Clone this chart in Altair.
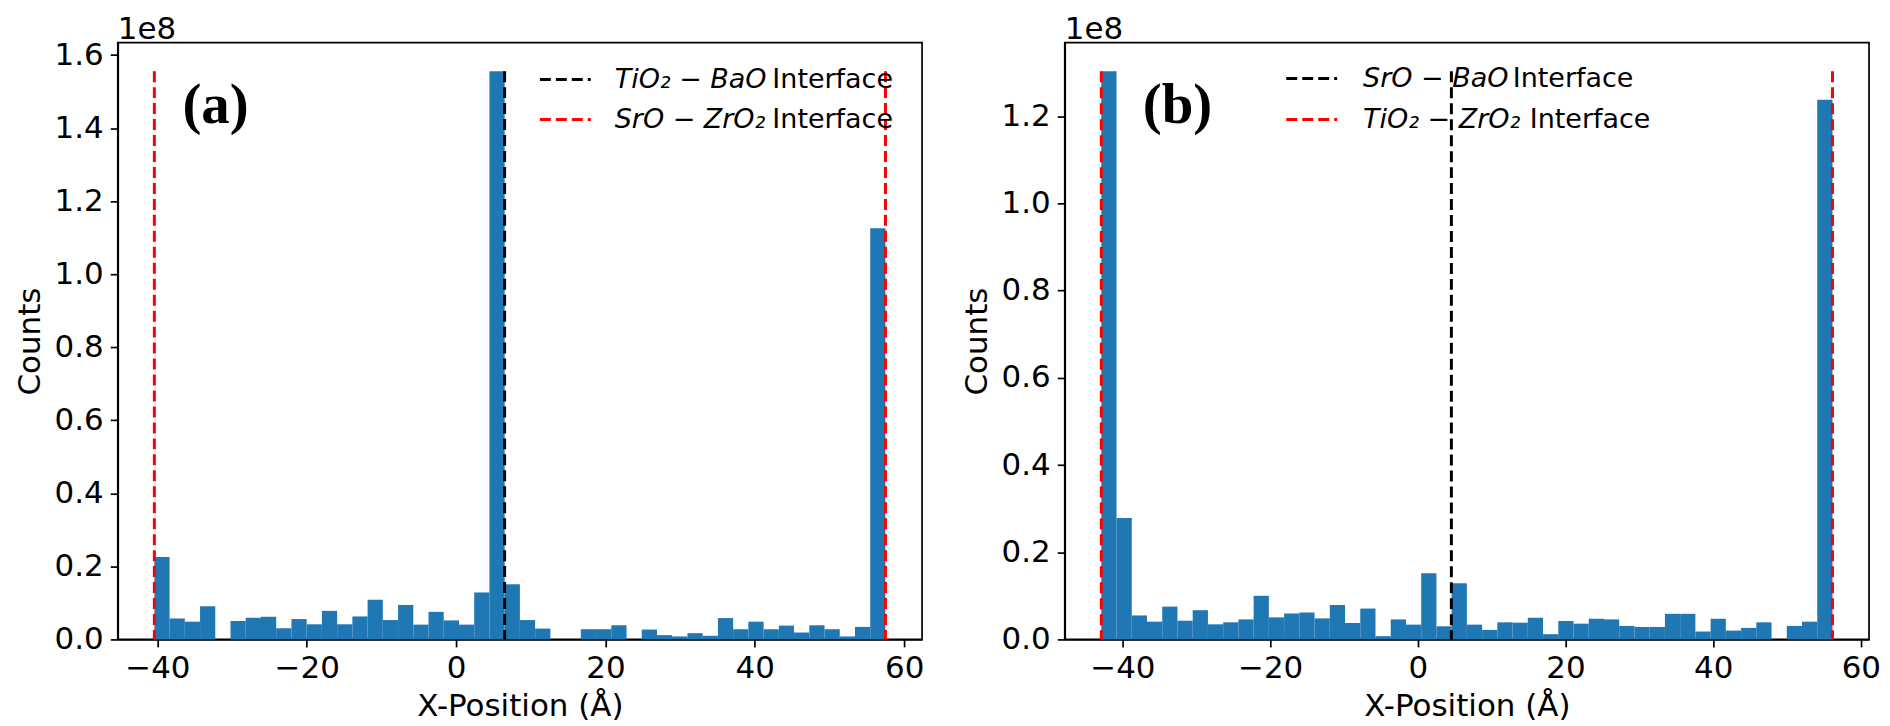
import altair as alt
import numpy as np
import pandas as pd

# ---------------- data (counts in units of 1e8) ----------------
A_RANGE = (-40.4, 57.5)
A_COUNTS = [0.226, 0.0575, 0.0485, 0.0908, 0.0, 0.0503, 0.0593, 0.062, 0.0306, 0.0557,
            0.0414, 0.0782, 0.0414, 0.0629, 0.1088, 0.053, 0.0944, 0.0405, 0.0755, 0.0521,
            0.0405, 0.1286, 1.556, 0.151, 0.053, 0.0297, 0.0, 0.0, 0.0279, 0.0279,
            0.0387, 0.0, 0.027, 0.0117, 0.0081, 0.0171, 0.0099, 0.0584, 0.0279, 0.0485,
            0.0279, 0.0378, 0.0189, 0.0387, 0.0279, 0.0081, 0.0342, 1.126]
A_BLACK = 6.5
A_RED = [-40.4, 57.5]
A_XDOM = [-45.3, 62.4]
A_YDOM = [0, 1.634]
A_YTICKS = [0.0, 0.2, 0.4, 0.6, 0.8, 1.0, 1.2, 1.4, 1.6]
A_LEG = [("TiO\u2082 \u2212 BaO", "Interface"), ("SrO \u2212 ZrO\u2082", "Interface")]

B_RANGE = (-42.86, 56.16)
B_COUNTS = [1.303, 0.2785, 0.055, 0.0407, 0.0753, 0.0429, 0.067, 0.0346, 0.0392, 0.0459,
            0.1, 0.0505, 0.0595, 0.0617, 0.0482, 0.079, 0.0377, 0.0708, 0.0075, 0.0459,
            0.0339, 0.152, 0.0301, 0.1288, 0.0339, 0.0218, 0.0392, 0.0384, 0.0497, 0.012,
            0.0422, 0.0361, 0.0474, 0.0459, 0.0309, 0.0286, 0.0286, 0.0587, 0.0587, 0.0181,
            0.0474, 0.0203, 0.0264, 0.0392, 0.0, 0.0309, 0.0407, 1.2377]
B_BLACK = 4.55
B_RED = [-42.86, 56.16]
B_XDOM = [-47.81, 61.11]
B_YDOM = [0, 1.3687]
B_YTICKS = [0.0, 0.2, 0.4, 0.6, 0.8, 1.0, 1.2]
B_LEG = [("SrO \u2212 BaO", "Interface"), ("TiO\u2082 \u2212 ZrO\u2082", "Interface")]

XTICKS = [-40, -20, 0, 20, 40, 60]
FONT = "DejaVu Sans"
BLUE = "#1f77b4"
DASH = [11, 5]
LW = 3

W = 806
H = 598


def panel(rng, counts, black_x, red_x, xdom, ydom, yticks, leg, leg_pos, label, label_x):
    n = len(counts)
    edges = np.linspace(rng[0], rng[1], n + 1)
    df = pd.DataFrame({"start": edges[:-1], "end": edges[1:], "count": counts, "zero": 0.0})
    xs = alt.Scale(domain=xdom, nice=False, zero=False)
    ys = alt.Scale(domain=ydom, nice=False, zero=False)
    bars = alt.Chart(df).mark_rect(color=BLUE).encode(
        x=alt.X("start:Q", scale=xs,
                axis=alt.Axis(values=XTICKS, format="d", title="X-Position (Å)")),
        x2="end:Q",
        y=alt.Y("count:Q", scale=ys,
                axis=alt.Axis(values=yticks, format=".1f", title="Counts")),
        y2="zero:Q",
    )
    ymax = max(counts)
    lines = pd.DataFrame({"x": [black_x] + list(red_x), "top": ymax, "zero": 0.0,
                          "kind": ["black", "red", "red"]})
    rules = alt.Chart(lines).mark_rule(strokeDash=DASH, strokeWidth=LW).encode(
        x=alt.X("x:Q", scale=xs),
        y=alt.Y("top:Q", scale=ys),
        y2="zero:Q",
        color=alt.Color("kind:N", scale=alt.Scale(domain=["black", "red"], range=["black", "red"]),
                        legend=None),
    )
    one = pd.DataFrame({"a": [0]})
    layers = [bars, rules]
    (sx0, sx1, tx, ix_list, ys_list) = leg_pos
    for i, (ital, normal) in enumerate(leg):
        col = "black" if i == 0 else "red"
        yy = ys_list[i]
        layers.append(alt.Chart(one).mark_rule(strokeDash=DASH, strokeWidth=LW, color=col).encode(
            x=alt.value(sx0), x2=alt.value(sx1), y=alt.value(yy)))
        layers.append(alt.Chart(one).mark_text(align="left", baseline="middle", font=FONT,
                                               fontSize=27, fontStyle="italic", color="black").encode(
            x=alt.value(tx), y=alt.value(yy), text=alt.value(ital)))
        layers.append(alt.Chart(one).mark_text(align="left", baseline="middle", font=FONT,
                                               fontSize=27, color="black").encode(
            x=alt.value(ix_list[i]), y=alt.value(yy), text=alt.value(normal)))
    layers.append(alt.Chart(one).mark_text(align="center", baseline="middle", font="Liberation Serif",
                                           fontWeight="bold", fontSize=57, color="black").encode(
        x=alt.value(label_x), y=alt.value(63), text=alt.value(label)))
    layers.append(alt.Chart(one).mark_text(align="left", baseline="alphabetic", font=FONT,
                                           fontSize=31, color="black").encode(
        x=alt.value(0), y=alt.value(-4), text=alt.value("1e8")))
    return alt.layer(*layers).properties(width=W, height=H)


pa = panel(A_RANGE, A_COUNTS, A_BLACK, A_RED, A_XDOM, A_YDOM, A_YTICKS, A_LEG,
           (W - 383, W - 332, W - 308, [W - 150, W - 150], [37, 77]), "(a)", 98)
pb = panel(B_RANGE, B_COUNTS, B_BLACK, B_RED, B_XDOM, B_YDOM, B_YTICKS, B_LEG,
           (222, 273, 299, [449, 466], [36, 77]), "(b)", 113)

chart = alt.hconcat(pa, pb, spacing=35).properties(
    padding={"left": 5, "top": 4, "right": 0, "bottom": 0}
).configure_view(
    stroke="black", strokeWidth=1.7
).configure_axis(
    labelFont=FONT, labelFontSize=31, labelColor="black",
    titleFont=FONT, titleFontSize=31, titleFontWeight="normal", titleColor="black",
    tickColor="black", tickWidth=1.7, tickSize=7.5, labelPadding=7,
    domainColor="black", domainWidth=1.7, grid=False, zindex=1,
).configure_axisX(titlePadding=8).configure_axisY(titlePadding=8)

chart.save("out.html", embed_options={"renderer": "svg", "actions": False})
